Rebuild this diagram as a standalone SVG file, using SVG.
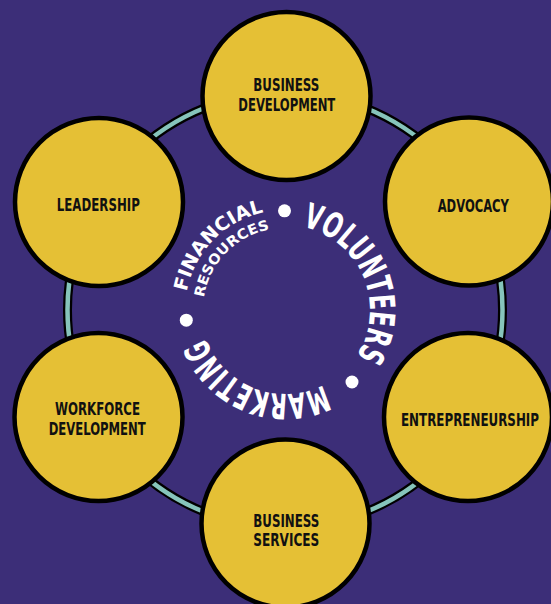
<svg xmlns="http://www.w3.org/2000/svg" width="551" height="604" viewBox="0 0 551 604">
  <style>
    .node circle { fill: #e5c035; stroke: #000; stroke-width: 4.5; }
    .node text { font-family: "Liberation Sans Narrow", "DejaVu Sans Condensed", "Liberation Sans", sans-serif; font-weight: bold; font-size: 17.5px; fill: #111; text-anchor: middle; }
    .arc { font-family: "Liberation Sans Narrow", "DejaVu Sans Condensed", "Liberation Sans", sans-serif; font-weight: bold; fill: #fff; text-anchor: middle; }
    .big { font-size: 35px; }
    .mid { font-size: 19px; }
    .small { font-size: 14px; }
    .dot { fill: #fff; }
  </style>
  <defs>
    <path id="p85" d="M285,225 A85,85 0 1 1 285,395 A85,85 0 1 1 285,225"/>
    <path id="p84" d="M285,226 A84,84 0 1 1 285,394 A84,84 0 1 1 285,226"/>
    <path id="p100" d="M285,210 A100,100 0 1 1 285,410 A100,100 0 1 1 285,210"/>
    <path id="p82" d="M285,228 A82,82 0 1 1 285,392 A82,82 0 1 1 285,228"/>
  </defs>
  <rect width="551" height="604" fill="#3c2e78"/>

  <g id="connectors">
    <circle cx="285" cy="310" r="217.5" fill="none" stroke="#000" stroke-width="9"/>
    <circle cx="285" cy="310" r="217.5" fill="none" stroke="#86c4bb" stroke-width="4.5"/>
  </g>

  <g id="center-labels">
    <text class="arc big"><textPath href="#p85" startOffset="99.8" textLength="165" lengthAdjust="spacingAndGlyphs">VOLUNTEERS</textPath></text>
    <text class="arc big"><textPath href="#p84" startOffset="295" textLength="143.5" lengthAdjust="spacingAndGlyphs">MARKETING</textPath></text>
    <text class="arc mid"><textPath href="#p100" startOffset="547.4" textLength="117" lengthAdjust="spacingAndGlyphs">FINANCIAL</textPath></text>
    <text class="arc small"><textPath href="#p82" startOffset="448.8" textLength="100.5" lengthAdjust="spacingAndGlyphs">RESOURCES</textPath></text>
    <circle class="dot" cx="284.5" cy="210.8" r="6.5"/>
    <circle class="dot" cx="352" cy="382" r="6.5"/>
    <circle class="dot" cx="186.3" cy="320.2" r="6.5"/>
  </g>

  <g id="business-development" class="node">
    <circle cx="286.5" cy="96" r="84"/>
    <text x="286.3" y="91.3" textLength="66" lengthAdjust="spacingAndGlyphs">BUSINESS</text>
    <text x="286.8" y="110.7" textLength="97" lengthAdjust="spacingAndGlyphs">DEVELOPMENT</text>
  </g>
  <g id="leadership" class="node">
    <circle cx="99" cy="202" r="84"/>
    <text x="98.3" y="211" textLength="83" lengthAdjust="spacingAndGlyphs">LEADERSHIP</text>
  </g>
  <g id="advocacy" class="node">
    <circle cx="469" cy="201.5" r="84"/>
    <text x="473.3" y="211.7" textLength="71.3" lengthAdjust="spacingAndGlyphs">ADVOCACY</text>
  </g>
  <g id="workforce-development" class="node">
    <circle cx="98.5" cy="417" r="84"/>
    <text x="97.5" y="415" textLength="85" lengthAdjust="spacingAndGlyphs">WORKFORCE</text>
    <text x="97.2" y="435" textLength="97" lengthAdjust="spacingAndGlyphs">DEVELOPMENT</text>
  </g>
  <g id="entrepreneurship" class="node">
    <circle cx="468" cy="417" r="84"/>
    <text x="470" y="426" textLength="138" lengthAdjust="spacingAndGlyphs">ENTREPRENEURSHIP</text>
  </g>
  <g id="business-services" class="node">
    <circle cx="285.5" cy="523.5" r="84"/>
    <text x="286.3" y="526.7" textLength="66" lengthAdjust="spacingAndGlyphs">BUSINESS</text>
    <text x="286.3" y="546" textLength="66" lengthAdjust="spacingAndGlyphs">SERVICES</text>
  </g>
</svg>
